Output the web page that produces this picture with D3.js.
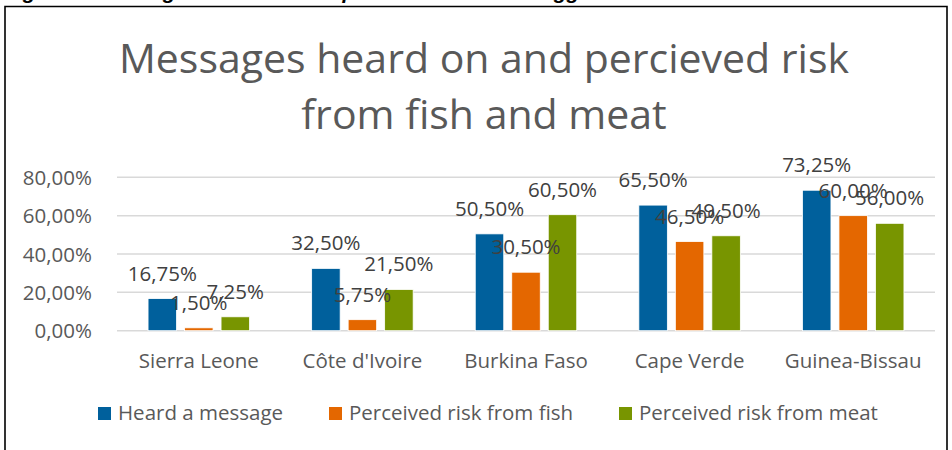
<!DOCTYPE html>
<html>
  <head>
    <meta charset="utf-8">
    <title></title>
    <style>
      body, html{
        margin: 0;
        width: 100%;
        height: 100%;
        background: #fff;
      }
      svg text{
        font-family: "Open Sans", sans-serif;
        fill: #595959;
      }
    </style>
  </head>
  <body>
    <div id="chart"></div>
    <script src="https://cdnjs.cloudflare.com/ajax/libs/d3/7.8.5/d3.min.js" charset="utf-8"></script>
    <script>
      var countries = ['Sierra Leone', "Côte d'Ivoire", 'Burkina Faso', 'Cape Verde', 'Guinea-Bissau']
      var seriesNames = ['Heard a message', 'Perceived risk from fish', 'Perceived risk from meat']
      var heard = [16.75, 32.5, 50.5, 65.5, 73.25]
      var riskFish = [1.5, 5.75, 30.5, 46.5, 60]
      var riskMeat = [7.25, 21.5, 60.5, 49.5, 56]
      var yTicks = [0, 20, 40, 60, 80]
      var colors = ['#00609c', '#e46700', '#789500']
      var titleLines = ['Messages heard on and percieved risk', 'from fish and meat']

      var values = [heard, riskFish, riskMeat]
      var width = 952, height = 450
      var fmt = function(v){ return v.toFixed(2).replace('.', ',') + '%' }

      var svg = d3.select('#chart').append('svg')
        .attr('width', width).attr('height', height)

      // caption of the document, mostly cut off above the picture
      svg.append('text')
        .attr('x', 4).attr('y', -1)
        .style('fill', '#000')
        .style('font-family', '"Liberation Sans", sans-serif')
        .style('font-style', 'italic').style('font-weight', 'bold')
        .style('font-size', '21px')
        .text('Figure 6: Messages heard on and perceived risk from eggs')

      // chart frame
      svg.append('path')
        .attr('d', 'M5,460 V6.5 H947 V460')
        .attr('fill', 'none').attr('stroke', '#000').attr('stroke-width', 1.6)

      var title = svg.append('text')
        .attr('text-anchor', 'middle')
        .style('font-size', '41px')
      title.selectAll('tspan').data(titleLines).enter().append('tspan')
        .attr('x', 484)
        .attr('y', function(d, i){ return 73 + i * 56 })
        .text(function(d){ return d })

      var x0 = d3.scaleBand().domain(countries).range([117, 935])
      var x1 = d3.scaleBand().domain(d3.range(seriesNames.length))
        .range([0, 101.5]).paddingInner(0.219)
      var y = d3.scaleLinear().domain([0, 80]).range([330.7, 177.3])

      var grid = svg.append('g')
      grid.selectAll('line').data(yTicks).enter().append('line')
        .attr('x1', 117).attr('x2', 935)
        .attr('y1', function(d){ return y(d) }).attr('y2', function(d){ return y(d) })
        .attr('stroke', '#d9d9d9').attr('stroke-width', 1.5)

      var yAxis = svg.append('g').attr('transform', 'translate(92,0)')
        .call(d3.axisLeft(y).tickValues(yTicks).tickSize(0).tickPadding(0)
          .tickFormat(function(d){ return d.toFixed(2).replace('.', ',') + '%' }))
      yAxis.select('.domain').remove()
      yAxis.selectAll('text')
        .attr('dy', '0.35em')
        .style('font-size', '20.5px').style('font-family', '"Open Sans", sans-serif')
        .attr('fill', '#595959')

      var xAxis = svg.append('g').attr('transform', 'translate(0,' + 368 + ')')
        .call(d3.axisBottom(x0).tickSize(0).tickPadding(0))
      xAxis.select('.domain').remove()
      xAxis.selectAll('text')
        .attr('dy', 0).attr('y', 0)
        .style('font-size', '20.5px').style('font-family', '"Open Sans", sans-serif')
        .attr('fill', '#595959')

      var groups = svg.append('g').selectAll('g').data(countries).enter().append('g')
        .attr('transform', function(d){
          return 'translate(' + (x0(d) + x0.bandwidth() / 2 - 50.75) + ',0)'
        })

      groups.selectAll('rect')
        .data(function(d, ci){ return values.map(function(s, si){ return {s: si, v: s[ci]} }) })
        .enter().append('rect')
        .attr('x', function(d){ return x1(d.s) })
        .attr('width', x1.bandwidth())
        .attr('y', function(d){ return y(d.v) })
        .attr('height', function(d){ return y(0) - y(d.v) })
        .attr('fill', function(d){ return colors[d.s] })
        .attr('stroke', '#fff').attr('stroke-width', 0.8)

      groups.selectAll('text.lbl')
        .data(function(d, ci){ return values.map(function(s, si){ return {s: si, v: s[ci]} }) })
        .enter().append('text').attr('class', 'lbl')
        .attr('x', function(d){ return x1(d.s) + x1.bandwidth() / 2 })
        .attr('y', function(d){ return y(d.v) - 18 })
        .attr('text-anchor', 'middle')
        .style('font-size', '20.5px')
        .style('fill', '#404040')
        .text(function(d){ return fmt(d.v) })

      // legend
      var legendX = [98, 329, 619]
      var legend = svg.append('g').selectAll('g').data(seriesNames).enter().append('g')
        .attr('transform', function(d, i){ return 'translate(' + legendX[i] + ',413)' })
      legend.append('rect')
        .attr('x', 0).attr('y', -6).attr('width', 13).attr('height', 13)
        .attr('fill', function(d, i){ return colors[i] })
      legend.append('text')
        .attr('x', 20).attr('y', 0).attr('dy', '0.35em')
        .style('font-size', '20.5px')
        .text(function(d){ return d })
    </script>
  </body>
</html>
